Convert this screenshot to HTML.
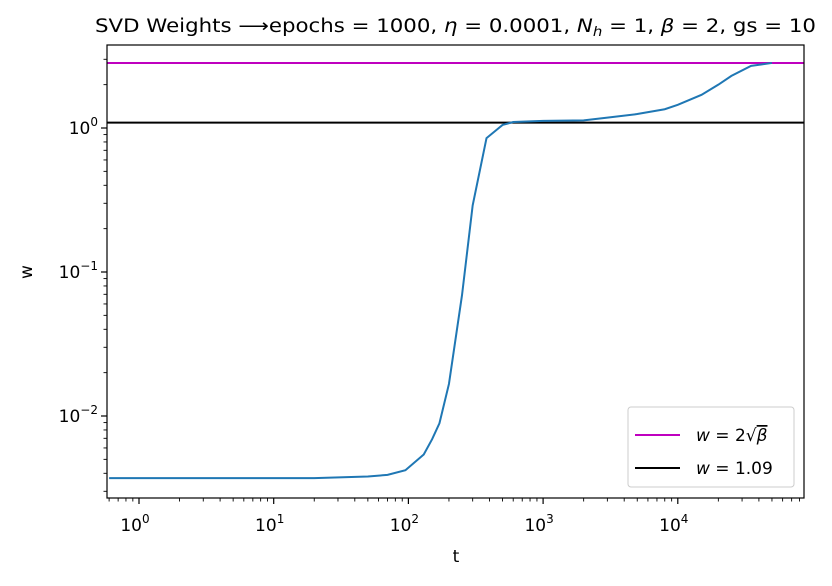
<!DOCTYPE html>
<html><head><meta charset="utf-8"><style>
body{margin:0;background:#fff;}
svg text{font-family:"DejaVu Sans","Liberation Sans",sans-serif;fill:#000;}
</style></head><body>
<svg id="chart" width="832" height="581" xmlns="http://www.w3.org/2000/svg">
<rect width="832" height="581" fill="#fff"/>
<text x="95" y="32" font-size="18.5" textLength="721" lengthAdjust="spacingAndGlyphs">SVD Weights ⟶epochs = 1000, <tspan font-style="italic">η</tspan> = 0.0001, <tspan font-style="italic">N</tspan><tspan font-size="13" dy="4" font-style="italic">h</tspan><tspan dy="-4"> = 1,  </tspan><tspan font-style="italic">β</tspan> = 2, gs = 10</text>
<g id="plot"></g>
<text x="456" y="562" font-size="17" text-anchor="middle">t</text>
<text x="32" y="272" font-size="17" text-anchor="middle" transform="rotate(-90 32 272)">w</text>
</svg>
<script>
const ts=[0.6,1,5,20,50,70,95,130,150,170,200,250,300,380,500,600,1000,2000,3000,5000,8000,10000,15000,20000,25000,35000,50000];
const ws=[0.0037,0.0037,0.0037,0.0037,0.0038,0.0039,0.0042,0.0054,0.0069,0.0089,0.0167,0.069,0.29,0.85,1.05,1.1,1.12,1.13,1.18,1.25,1.35,1.45,1.7,2.0,2.3,2.7,2.83];
const hLines=[2*Math.sqrt(2),1.09];
const hColors=['#bf00bf','#000'];
const xDecades=[0,1,2,3,4];
const yDecades=[-2,-1,0];
const L=107,R=804,T=45,B=498;
const x0=139,xd=134.7,y0=128,yd=144;
const X=t=>x0+Math.log10(t)*xd;
const Y=w=>y0-Math.log10(w)*yd;
const NS='http://www.w3.org/2000/svg';
const g=document.getElementById('plot');
function el(tag,attrs,parent){const e=document.createElementNS(NS,tag);for(const k in attrs)e.setAttribute(k,attrs[k]);(parent||g).appendChild(e);return e;}
const defs=el('defs',{});const cp=el('clipPath',{id:'cp'},defs);el('rect',{x:L,y:T,width:R-L,height:B-T},cp);
const clip=el('g',{'clip-path':'url(#cp)'});
hLines.forEach((v,i)=>{const l=el('line',{x1:L,x2:R,y1:Y(v),y2:Y(v),stroke:hColors[i],'stroke-width':2},clip);

});
const p=el('polyline',{points:ts.map((t,i)=>X(t)+','+Y(ws[i])).join(' '),fill:'none',stroke:'#1f77b4','stroke-width':2},clip);


for(let d=-1;d<=5;d++){for(let m=1;m<10;m++){const x=X(m*Math.pow(10,d));if(x<L||x>R)continue;
el('line',{x1:x,x2:x,y1:B,y2:B+(m==1?6:3.5),stroke:'#000','stroke-width':m==1?1.2:0.9});}}
for(let d=-3;d<=1;d++){for(let m=1;m<10;m++){const y=Y(m*Math.pow(10,d));if(y<T||y>B)continue;
el('line',{x1:L,x2:L-(m==1?6:3.5),y1:y,y2:y,stroke:'#000','stroke-width':m==1?1.2:0.9});}}
xDecades.forEach(d=>{const t=el('text',{x:X(Math.pow(10,d))-4,y:531,'font-size':17,'text-anchor':'middle'});


t.innerHTML='10<tspan font-size="12" dy="-8">'+d+'</tspan>';});
yDecades.forEach(d=>{const t=el('text',{x:98,y:Y(Math.pow(10,d))+6,'font-size':17,'text-anchor':'end'});


t.innerHTML=(d<0?'10<tspan font-size="12" dy="-8">−'+(-d)+'</tspan>':'10<tspan font-size="12" dy="-8">0</tspan>');});
el('rect',{x:L,y:T,width:R-L,height:B-T,fill:'none',stroke:'#000','stroke-width':1.2});
const lg=el('g',{});


el('rect',{x:628,y:407,width:166,height:80,rx:3,fill:'#fff',stroke:'#ccc','stroke-width':1},lg);
el('line',{x1:635,x2:680,y1:435,y2:435,stroke:hColors[0],'stroke-width':2},lg);
el('line',{x1:635,x2:680,y1:468,y2:468,stroke:hColors[1],'stroke-width':2},lg);
const t1=el('text',{x:696,y:441,'font-size':17},lg);t1.innerHTML='<tspan font-style="italic">w</tspan> = 2√<tspan font-style="italic" text-decoration="overline">β</tspan>';


const t2=el('text',{x:696,y:474,'font-size':17},lg);t2.innerHTML='<tspan font-style="italic">w</tspan> = 1.09';


</script>
</body></html>
